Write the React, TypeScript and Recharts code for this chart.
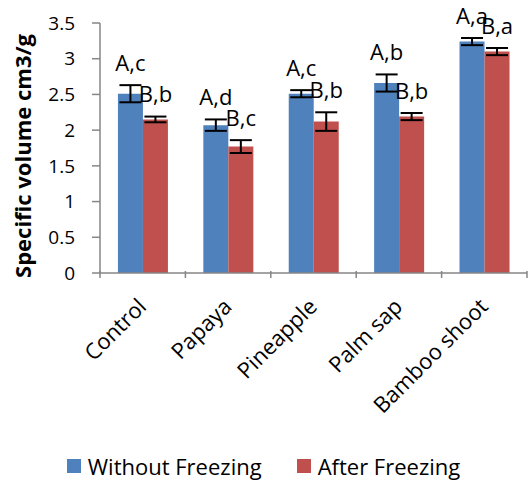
import React from 'react';
import { BarChart, Bar, XAxis, YAxis, ErrorBar, LabelList, Legend, Label } from 'recharts';

const categories = ['Control', 'Papaya', 'Pineapple', 'Palm sap', 'Bamboo shoot'];
const withoutFreezing = [2.51, 2.07, 2.51, 2.66, 3.24];
const afterFreezing = [2.15, 1.77, 2.12, 2.19, 3.1];
const withoutErr = [0.12, 0.08, 0.05, 0.12, 0.05];
const afterErr = [0.04, 0.09, 0.13, 0.05, 0.05];
const withoutLabels = ['A,c', 'A,d', 'A,c', 'A,b', 'A,a'];
const afterLabels = ['B,b', 'B,c', 'B,b', 'B,b', 'B,a'];
const yTicks = [0, 0.5, 1, 1.5, 2, 2.5, 3, 3.5];
const seriesNames = ['Without Freezing', 'After Freezing'];

const BLUE = '#4F81BD';
const RED = '#C0504D';
const AXIS = '#868686';
const FONT = '"Open Sans", sans-serif';

const data = categories.map((name, i) => ({
  name,
  without: withoutFreezing[i],
  after: afterFreezing[i],
  errW: withoutErr[i],
  errA: afterErr[i],
  labW: withoutLabels[i],
  labA: afterLabels[i],
}));

const W = 532;
const H = 480;
const MARGIN = { top: 23, right: 5, left: 0, bottom: 0 };
const YW = 100;

const makeLabel = (vals: number[], errs: number[]) => (props: any) => {
  const { x, y, width, height, value, index } = props;
  const v = vals[index];
  const pxPerUnit = v ? height / v : 0;
  const errPx = errs[index] * pxPerUnit;
  const cy = y - errPx - 22;
  return (
    <text
      x={x + width / 2}
      y={cy}
      dy="0.36em"
      textAnchor="middle"
      fontSize={22}
      fontFamily={FONT}
      fill="#000"
    >
      {value}
    </text>
  );
};

const XTick = (props: any) => {
  const { x, y, payload, index, visibleTicksCount } = props;
  const plotW = W - YW - MARGIN.left - MARGIN.right;
  const band = plotW / categories.length;
  const half = payload && payload.offset ? payload.offset : band / 2;
  const axisY = y - 2;
  const tx = x + 5;
  const ty = y + 27;
  return (
    <g>
      <line x1={x - half} x2={x - half} y1={axisY - 8} y2={axisY - 1} stroke={AXIS} strokeWidth={1.5} />
      {index === (visibleTicksCount ?? categories.length) - 1 && (
        <line x1={x + half} x2={x + half} y1={axisY - 8} y2={axisY - 1} stroke={AXIS} strokeWidth={1.5} />
      )}
      <text
        x={tx}
        y={ty}
        transform={`rotate(-45, ${tx}, ${ty})`}
        textAnchor="end"
        fontSize={22}
        fontFamily={FONT}
        fill="#000"
      >
        {payload.value}
      </text>
    </g>
  );
};

const LegendContent = (props: any) => {
  const payload = [...(props.payload || [])].sort(
    (a: any, b: any) => seriesNames.indexOf(a.value) - seriesNames.indexOf(b.value)
  );
  return (
    <div
      style={{
        display: 'flex',
        justifyContent: 'center',
        alignItems: 'center',
        height: 28,
        fontFamily: FONT,
        fontSize: 22,
        color: '#000',
      }}
    >
      {payload.map((p: any, i: number) => (
        <div key={i} style={{ display: 'flex', alignItems: 'center', marginLeft: i ? 35 : 0 }}>
          <div style={{ width: 14, height: 14, background: p.color, marginRight: 7 }} />
          <span>{p.value}</span>
        </div>
      ))}
    </div>
  );
};

const YTitle = (props: any) => {
  const { viewBox } = props;
  const cx = 22;
  const cy = viewBox.y + viewBox.height / 2 + 8;
  return (
    <text
      x={cx}
      y={cy}
      transform={`rotate(-90, ${cx}, ${cy})`}
      textAnchor="middle"
      dominantBaseline="central"
      fontSize={22}
      fontWeight="bold"
      fontFamily={FONT}
      fill="#000"
    >
      Specific volume cm3/g
    </text>
  );
};

export default function App() {
  return (
    <div style={{ position: 'absolute', left: 0, top: 0, width: W, height: H, background: '#fff' }}>
      <BarChart width={W} height={H} data={data} margin={MARGIN} barCategoryGap="21%" barGap={0}>
        <XAxis
          dataKey="name"
          height={179}
          axisLine={{ stroke: AXIS, strokeWidth: 1.5 }}
          tickLine={false}
          tick={<XTick />}
          interval={0}
        />
        <YAxis
          width={YW}
          domain={[0, 3.5]}
          ticks={yTicks}
          interval={0}
          axisLine={{ stroke: AXIS, strokeWidth: 1.5 }}
          tickLine={{ stroke: AXIS, strokeWidth: 1.5 }}
          tickSize={8}
          tickMargin={17}
          tick={{ fontSize: 19, fontFamily: FONT, fill: '#000' }}
        >
          <Label content={<YTitle />} />
        </YAxis>
        <Legend verticalAlign="bottom" content={<LegendContent />} />
        <Bar dataKey="without" name={seriesNames[0]} fill={BLUE} isAnimationActive={false}>
          <ErrorBar dataKey="errW" width={11} strokeWidth={2} stroke="#000" isAnimationActive={false} />
          <LabelList dataKey="labW" content={makeLabel(withoutFreezing, withoutErr)} />
        </Bar>
        <Bar dataKey="after" name={seriesNames[1]} fill={RED} isAnimationActive={false}>
          <ErrorBar dataKey="errA" width={11} strokeWidth={2} stroke="#000" isAnimationActive={false} />
          <LabelList dataKey="labA" content={makeLabel(afterFreezing, afterErr)} />
        </Bar>
      </BarChart>
    </div>
  );
}
